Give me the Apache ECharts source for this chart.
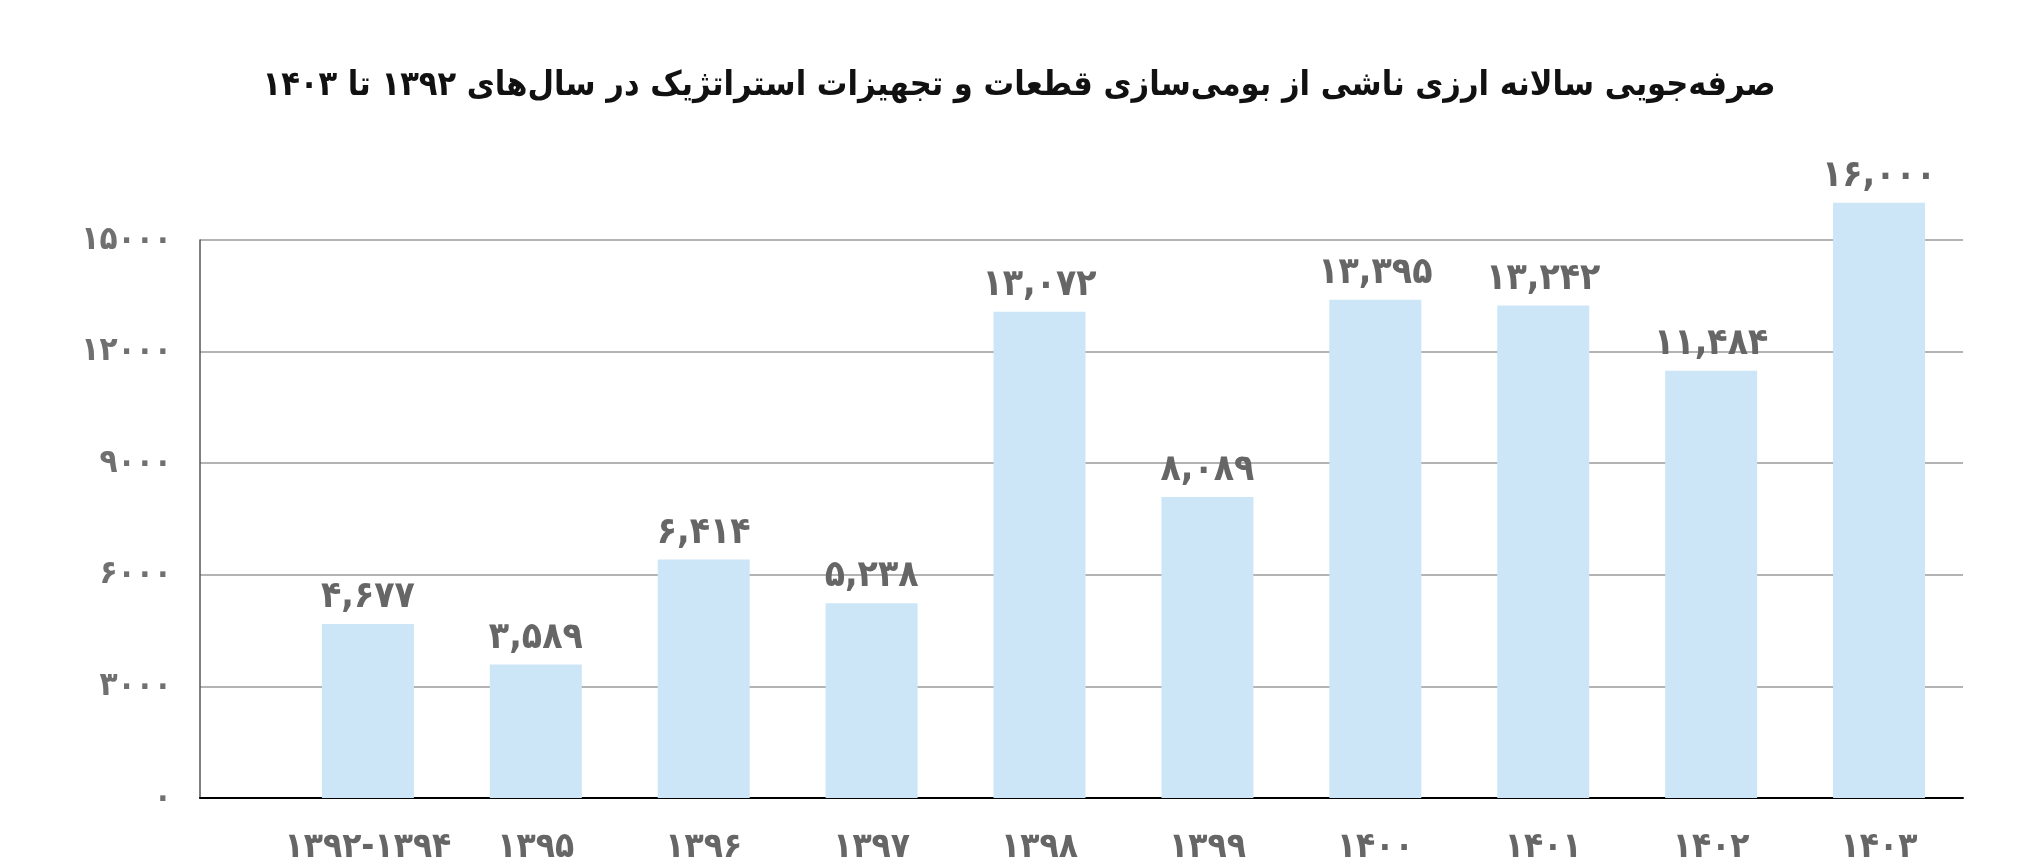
<!DOCTYPE html>
<html style="height: 100%">

<head>
    <meta charset="utf-8">
</head>

<body style="height: 100%; margin: 0; background: #ffffff">
    <div id="container" style="height: 100%"></div>

    <script src="https://cdn.jsdelivr.net/npm/echarts@6/dist/echarts.min.js"></script>

    <script type="text/javascript">
        // 数据
        var years = ['۱۳۹۲-۱۳۹۴', '۱۳۹۵', '۱۳۹۶', '۱۳۹۷', '۱۳۹۸', '۱۳۹۹', '۱۴۰۰', '۱۴۰۱', '۱۴۰۲', '۱۴۰۳'];
        var savings = [4677, 3589, 6414, 5238, 13072, 8089, 13395, 13242, 11484, 16000];
        var yTicks = [0, 3000, 6000, 9000, 12000, 15000];

        var titleText = 'صرفه\u200cجویی سالانه ارزی ناشی از بومی\u200cسازی قطعات و تجهیزات استراتژیک در سال\u200cهای ۱۳۹۲ تا ۱۴۰۳';

        var faFont = '"DejaVu Sans Condensed", "DejaVu Sans", sans-serif';
        var labelGray = '#666666';

        // 英文数字 -> 波斯数字
        function toFa(str) {
            return String(str).replace(/[0-9]/g, function (d) {
                return '۰۱۲۳۴۵۶۷۸۹'.charAt(+d);
            });
        }

        function withComma(v) {
            return String(v).replace(/\B(?=(\d{3})+(?!\d))/g, ',');
        }

        var myChart = echarts.init(document.getElementById('container'));

        // x 轴用数值轴, 左边空出一格
        var barData = savings.map(function (v, i) {
            return [i, v];
        });

        var option = {
            animation: false,
            backgroundColor: '#ffffff',
            title: {
                text: titleText,
                left: 'center',
                top: 64,
                textStyle: {
                    fontFamily: faFont,
                    fontWeight: 'bold',
                    fontSize: 34,
                    color: '#111111'
                }
            },
            grid: {
                left: 200,
                right: 75,
                top: 240,
                bottom: 69,
                containLabel: false
            },
            xAxis: {
                type: 'value',
                min: -1,
                max: 9.5,
                interval: 1,
                splitLine: { show: false },
                axisTick: { show: false },
                axisLine: {
                    show: true,
                    onZero: false,
                    lineStyle: { color: '#000000', width: 2 }
                },
                axisLabel: {
                    margin: 32,
                    fontFamily: faFont,
                    fontWeight: 'bold',
                    fontSize: 35,
                    color: labelGray,
                    showMinLabel: false,
                    showMaxLabel: false,
                    formatter: function (value) {
                        var idx = Math.round(value);
                        if (Math.abs(value - idx) > 0.01 || idx < 0 || idx >= years.length) {
                            return '';
                        }
                        return years[idx];
                    }
                }
            },
            yAxis: {
                type: 'value',
                min: yTicks[0],
                max: yTicks[yTicks.length - 1],
                interval: yTicks[1] - yTicks[0],
                axisTick: { show: false },
                axisLine: {
                    show: true,
                    onZero: false,
                    lineStyle: { color: '#555555', width: 1.5 }
                },
                splitLine: {
                    show: true,
                    lineStyle: { color: '#9a9a9a', width: 1.5 }
                },
                axisLabel: {
                    margin: 28,
                    fontFamily: faFont,
                    fontWeight: 'bold',
                    fontSize: 33,
                    color: '#707070',
                    formatter: function (value) {
                        return toFa(value);
                    }
                }
            },
            series: [
                {
                    type: 'bar',
                    data: barData,
                    barWidth: 92,
                    clip: false,
                    itemStyle: { color: '#cce6f8' },
                    label: {
                        show: true,
                        position: 'top',
                        distance: 8,
                        fontFamily: faFont,
                        fontWeight: 'bold',
                        fontSize: 37,
                        color: labelGray,
                        formatter: function (p) {
                            return toFa(withComma(p.value[1]));
                        }
                    }
                }
            ]
        };

        myChart.setOption(option);
    </script>
</body>

</html>
